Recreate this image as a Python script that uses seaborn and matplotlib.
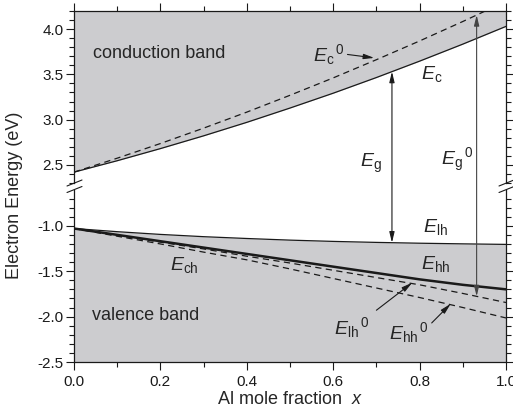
import numpy as np
import seaborn as sns
import matplotlib
matplotlib.use("Agg")
import matplotlib.pyplot as plt
from matplotlib.lines import Line2D
from matplotlib.ticker import MultipleLocator

# Al mole fraction and band edges (eV)
al_x = [0.0, 0.1, 0.2, 0.3, 0.4, 0.5, 0.6, 0.7, 0.8, 0.9, 1.0]
ec = [2.42, 2.546, 2.680, 2.821, 2.970, 3.128, 3.292, 3.465, 3.646, 3.834, 4.03]
ec0 = [2.42, 2.574, 2.736, 2.906, 3.083, 3.269, 3.461, 3.662, 3.869, 4.084, 4.307]
elh = [-1.03, -1.065, -1.095, -1.12, -1.14, -1.158, -1.172, -1.183, -1.192, -1.199, -1.205]
ehh = [-1.03, -1.10, -1.17, -1.24, -1.31, -1.38, -1.45, -1.52, -1.59, -1.65, -1.70]
elh0 = [-1.03, -1.105, -1.18, -1.255, -1.335, -1.41, -1.49, -1.57, -1.65, -1.745, -1.845]
ehh0 = [-1.03, -1.115, -1.20, -1.29, -1.375, -1.475, -1.58, -1.685, -1.79, -1.90, -2.015]

x_eg = 0.736
x_eg0 = 0.932

sns.set_theme(style="ticks")
plt.rcParams["font.family"] = ["Liberation Sans", "DejaVu Sans"]
plt.rcParams["mathtext.fontset"] = "custom"
plt.rcParams["mathtext.it"] = "Liberation Sans:italic"
plt.rcParams["mathtext.rm"] = "Liberation Sans"
plt.rcParams["axes.linewidth"] = 0.9

W, H = 513, 412
fig = plt.figure(figsize=(W / 100, H / 100), dpi=100)
L, R = 74 / W, 506 / W
ax_top = fig.add_axes([L, 1 - 183 / H, R - L, (183 - 11) / H])
ax_bot = fig.add_axes([L, 1 - 362 / H, R - L, (362 - 190) / H])

gray = "#cccccf"
top_lim = (2.30, 4.20)
bot_lim = (-2.5, -0.606)

# conduction side
ax_top.fill_between(al_x, ec, 5, color=gray, lw=0)
sns.lineplot(x=al_x, y=ec, ax=ax_top, color="k", lw=0.9)
sns.lineplot(x=al_x, y=ec0, ax=ax_top, color="k", lw=0.9, linestyle=(0, (5, 3.5)))

# valence side
ax_bot.fill_between(al_x, -3, elh, color=gray, lw=0)
sns.lineplot(x=al_x, y=elh, ax=ax_bot, color="k", lw=0.9)
sns.lineplot(x=al_x, y=ehh, ax=ax_bot, color="k", lw=1.8)
sns.lineplot(x=al_x, y=elh0, ax=ax_bot, color="k", lw=0.9, linestyle=(0, (5, 3.5)))
sns.lineplot(x=al_x, y=ehh0, ax=ax_bot, color="k", lw=0.9, linestyle=(0, (5, 3.5)))

for ax, lim in ((ax_top, top_lim), (ax_bot, bot_lim)):
    ax.set_xlim(0, 1)
    ax.set_ylim(*lim)
    ax.xaxis.set_major_locator(MultipleLocator(0.2))
    ax.xaxis.set_minor_locator(MultipleLocator(0.1))
    ax.yaxis.set_major_locator(MultipleLocator(0.5))
    ax.yaxis.set_minor_locator(MultipleLocator(0.1))
    ax.tick_params(which="both", direction="out", colors="k", labelsize=11,
                   right=True, width=0.8)
    ax.tick_params(which="major", length=6, pad=1.5)
    ax.tick_params(which="minor", length=3.5)
    ax.yaxis.set_major_formatter(matplotlib.ticker.FormatStrFormatter("%.1f"))
    for s in ax.spines.values():
        s.set_color("k")

ax_top.spines["bottom"].set_visible(False)
ax_bot.spines["top"].set_visible(False)
ax_top.tick_params(axis="x", which="both", top=True, bottom=False, labelbottom=False)
ax_bot.tick_params(axis="x", which="both", top=False, bottom=True, pad=3)
ax_bot.xaxis.set_major_formatter(matplotlib.ticker.FormatStrFormatter("%.1f"))
ax_bot.set_xlabel("Al mole fraction  $x$", fontsize=13, labelpad=2)
fig.text(15 / W, 1 - 195 / H, "Electron Energy (eV)", rotation=90,
         ha="center", va="center", fontsize=13)

# break marks on the left and right spines
for xs in (74, 506):
    for ys in (183, 189.5):
        fig.add_artist(Line2D([(xs - 7) / W, (xs + 8) / W],
                              [1 - (ys + 3) / H, 1 - (ys - 3) / H],
                              color="k", lw=0.8))

# band gap arrows spanning the break
arrow_kw = dict(arrowstyle="<|-|>,head_length=0.7,head_width=0.17", color="k",
                lw=0.8, shrinkA=0, shrinkB=0, mutation_scale=9, clip_on=False)
ax_bot.annotate("", xy=(x_eg, np.interp(x_eg, al_x, ec)), xycoords=ax_top.transData,
                xytext=(x_eg, np.interp(x_eg, al_x, elh)), textcoords=ax_bot.transData,
                arrowprops=arrow_kw, annotation_clip=False)
ax_bot.annotate("", xy=(x_eg0, np.interp(x_eg0, al_x, ec0)), xycoords=ax_top.transData,
                xytext=(x_eg0, np.interp(x_eg0, al_x, elh0)), textcoords=ax_bot.transData,
                arrowprops=dict(arrow_kw, color="#444444"), annotation_clip=False)

# labels
ax_top.text(0.044, 3.735, "conduction band", fontsize=13, va="center")
ax_bot.text(0.042, -1.985, "valence band", fontsize=13, va="center")

lab = dict(fontsize=14, ha="center", va="center")
ax_top.text(0.827, 3.50, r"$E_{\mathrm{c}}$", **lab)
ax_top.text(0.59, 3.72, r"${E_{\mathrm{c}}}^{\,0}$", **lab)
ax_top.text(0.688, 2.52, r"$E_{\mathrm{g}}$", **lab)
ax_top.text(0.887, 2.555, r"${E_{\mathrm{g}}}^{\,0}$", **lab)
ax_bot.text(0.836, -1.015, r"$E_{\mathrm{lh}}$", **lab)
ax_bot.text(0.838, -1.42, r"$E_{\mathrm{hh}}$", **lab)
ax_bot.text(0.256, -1.43, r"$E_{\mathrm{ch}}$", **lab)
ax_bot.text(0.642, -2.12, r"${E_{\mathrm{lh}}}^{\,0}$", **lab)
ax_bot.text(0.776, -2.18, r"${E_{\mathrm{hh}}}^{\,0}$", **lab)

ptr = dict(arrowstyle="-|>,head_length=0.7,head_width=0.17", color="k", lw=0.8,
           shrinkA=0, shrinkB=0, mutation_scale=9)
ax_top.annotate("", xy=(0.695, np.interp(0.695, al_x, ec0) + 0.03), xytext=(0.633, 3.72),
                arrowprops=ptr)
ax_bot.annotate("", xy=(0.783, np.interp(0.783, al_x, elh0) + 0.01), xytext=(0.70, -1.93),
                arrowprops=ptr)
ax_bot.annotate("", xy=(0.872, np.interp(0.872, al_x, ehh0) + 0.01), xytext=(0.828, -2.07),
                arrowprops=ptr)

fig.savefig("out.png", dpi=100)
